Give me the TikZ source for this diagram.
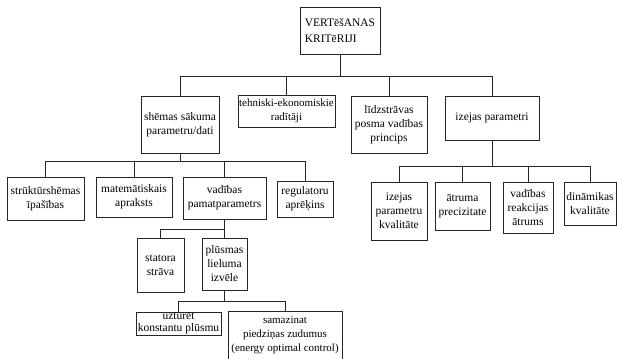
\documentclass[tikz,border=0pt]{standalone}
\usepackage{fontspec}
\setmainfont{Liberation Serif}
\usepackage{tikz}
\usetikzlibrary{positioning}
\definecolor{kritLine}{HTML}{262626}

\begin{document}
\begin{tikzpicture}[x=1pt,y=-1pt,
  kbox/.style={draw=kritLine, line width=0.7pt, align=center, inner sep=1pt,
    font=\rmfamily\fontsize{11.5}{14}\selectfont},
  kline/.style={draw=kritLine, line width=0.7pt}]
\useasboundingbox (0,0) rectangle (617,358);
\node[kbox, align=left, minimum width=80, minimum height=47, font=\rmfamily\fontsize{11.5}{16}\selectfont] (top) at (340,30.5) {VERTēšANAS\\KRITēRIJI};
\node[kbox, minimum width=78, minimum height=57] (shem) at (180,124.5) {shēmas sākuma\\parametru/dati};
\node[kbox, minimum width=97, minimum height=32, font=\rmfamily\fontsize{11}{14}\selectfont] (tehn) at (286.5,111) {tehniski-ekonomiskie\\radītāji};
\node[kbox, minimum width=76, minimum height=57] (lidz) at (389,124.5) {līdzstrāvas\\posma vadības\\princips};
\node[kbox, minimum width=94, minimum height=44] (izej) at (492,118) {izejas parametri};
\node[kbox, minimum width=77, minimum height=43] (strk) at (45.5,198.5) {strūktūrshēmas\\īpašības};
\node[kbox, minimum width=76, minimum height=40] (mate) at (134,197) {matemātiskais\\apraksts};
\node[kbox, minimum width=83, minimum height=42] (vadp) at (224.5,198) {vadības\\pamatparametrs};
\node[kbox, minimum width=56, minimum height=36] (regu) at (305,199) {regulatoru\\aprēķins};
\node[kbox, minimum width=47, minimum height=54] (stat) at (160.5,265) {statora\\strāva};
\node[kbox, minimum width=45, minimum height=52] (plus) at (224.5,264) {plūsmas\\lieluma\\izvēle};
\node[kbox, inner sep=0pt, minimum width=85, minimum height=23, font=\rmfamily\fontsize{11.5}{12}\selectfont] (uztu) at (178.5,323.5) {uzturēt\\konstantu plūsmu};
\node[kbox, minimum width=114, minimum height=48, font=\rmfamily\fontsize{11}{14}\selectfont] (sama) at (285,335) {samazinat\\piedziņas zudumus\\(energy optimal control)};
\node[kbox, minimum width=56, minimum height=58] (ikva) at (399,211) {izejas\\parametru\\kvalitāte};
\node[kbox, minimum width=55, minimum height=48] (atru) at (462.5,206) {ātruma\\precizitate};
\node[kbox, minimum width=50, minimum height=51] (vrea) at (528,207.5) {vadības\\reakcijas\\ātrums};
\node[kbox, minimum width=52, minimum height=43] (dina) at (590,203.5) {dināmikas\\kvalitāte};
\coordinate (b1) at (340,76);
\coordinate (b2) at (180,161);
\coordinate (b3) at (224.5,229);
\coordinate (b4) at (224.5,301);
\coordinate (b5) at (492,166);
\draw[kline] (top.south) -- (b1);
\foreach \c in {shem,tehn,lidz,izej} \draw[kline] (b1) -| (\c.north);
\draw[kline] (shem.south) -- (b2);
\foreach \c in {strk,mate,vadp,regu} \draw[kline] (b2) -| (\c.north);
\draw[kline] (vadp.south) -- (b3);
\foreach \c in {stat,plus} \draw[kline] (b3) -| (\c.north);
\draw[kline] (plus.south) -- (b4);
\foreach \c in {uztu,sama} \draw[kline] (b4) -| (\c.north);
\draw[kline] (izej.south) -- (b5);
\foreach \c in {ikva,atru,vrea,dina} \draw[kline] (b5) -| (\c.north);
\end{tikzpicture}
\end{document}
